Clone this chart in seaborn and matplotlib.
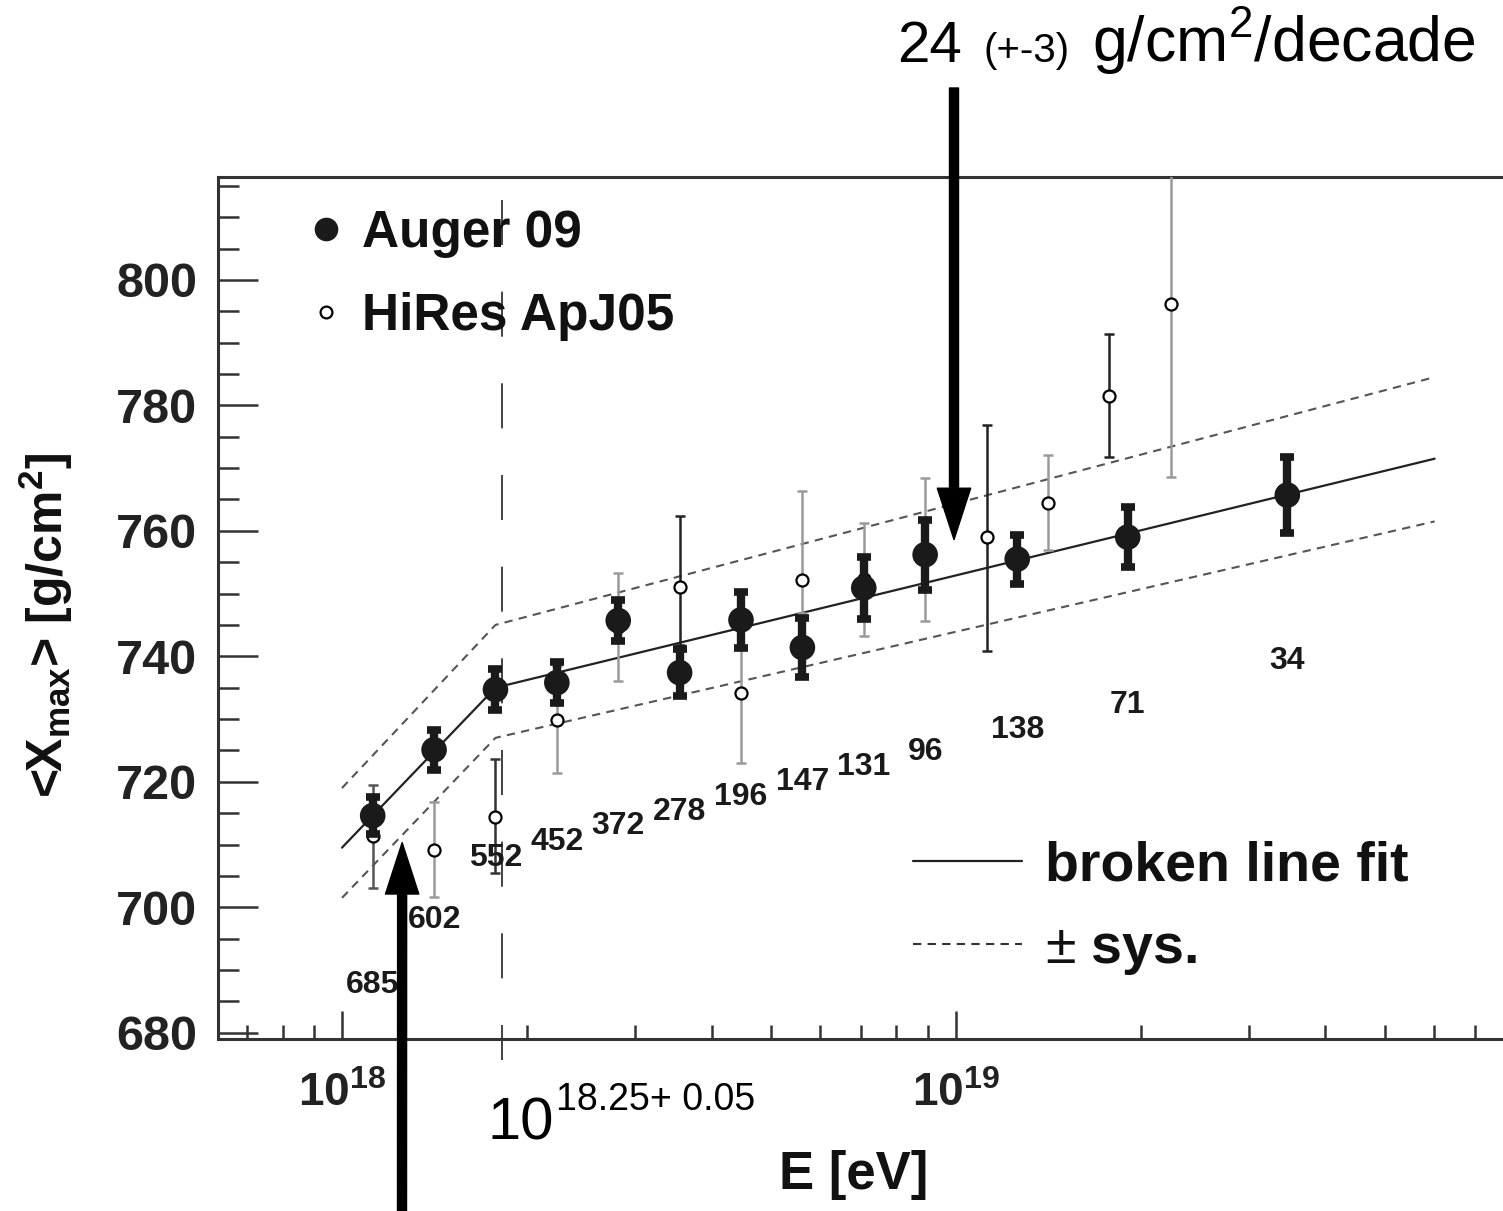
import matplotlib
matplotlib.use("Agg")
import matplotlib.pyplot as plt
import seaborn as sns
import numpy as np
from matplotlib.lines import Line2D
from matplotlib.ticker import MultipleLocator, LogLocator, NullFormatter, FixedLocator, FixedFormatter

# Auger 09 <Xmax> vs lg(E/eV)
auger_lgE = [18.05, 18.15, 18.25, 18.35, 18.45, 18.55, 18.65, 18.75, 18.85, 18.95, 19.10, 19.28, 19.54]
auger_xmax = [714.6, 725.1, 734.7, 735.8, 745.7, 737.4, 745.8, 741.4, 750.9, 756.2, 755.5, 759.0, 765.7]
auger_err = [3.0, 3.2, 3.3, 3.3, 3.2, 3.8, 4.4, 4.7, 5.0, 5.6, 3.9, 4.8, 6.1]
auger_nev = [685, 602, 552, 452, 372, 278, 196, 147, 131, 96, 138, 71, 34]
nev_label_y = [687.6, 698.0, 707.9, 710.4, 713.0, 715.2, 717.6, 720.0, 722.4, 724.8, 728.3, 732.3, 739.2]

# HiRes ApJ05
hires_lgE = [18.05, 18.15, 18.25, 18.35, 18.45, 18.55, 18.65, 18.75, 18.85, 18.95, 19.05, 19.15, 19.25, 19.35]
hires_xmax = [711.4, 709.2, 714.4, 729.9, 744.7, 751.1, 734.2, 752.2, 752.3, 757.0, 759.0, 764.5, 781.5, 796.2]
hires_lo = [703.1, 701.7, 705.5, 721.4, 736.1, 741.8, 723.0, 746.9, 743.3, 745.7, 740.9, 757.0, 771.8, 768.6]
hires_hi = [719.5, 716.7, 723.7, 738.4, 753.3, 762.4, 745.4, 766.4, 761.3, 768.4, 776.9, 772.1, 791.4, 823.8]
hires_bar_color = ["#555555", "#9a9a9a", "#333333", "#9a9a9a", "#9a9a9a", "#222222", "#9a9a9a",
                   "#9a9a9a", "#9a9a9a", "#9a9a9a", "#222222", "#9a9a9a", "#222222", "#9a9a9a"]

# broken line fit and systematic band
fit_lgE = [18.0, 18.25, 19.78]
fit_xmax = [709.5, 735.0, 771.5]
sys_hi = [719.0, 745.0, 784.5]
sys_lo = [701.5, 727.0, 761.5]
break_lgE = 18.26

sns.set_theme(style="white")
plt.rcParams["font.family"] = ["Liberation Sans", "DejaVu Sans"]
plt.rcParams["mathtext.fontset"] = "custom"
plt.rcParams["mathtext.rm"] = "Liberation Sans"
plt.rcParams["mathtext.it"] = "Liberation Sans:italic"
plt.rcParams["mathtext.bf"] = "Liberation Sans:bold"
plt.rcParams["text.color"] = "#111111"
plt.rcParams["axes.labelcolor"] = "#111111"
plt.rcParams["xtick.color"] = "#222222"
plt.rcParams["ytick.color"] = "#222222"

W, H = 1503, 1211
fig = plt.figure(figsize=(W / 100, H / 100), dpi=100)
ax = fig.add_axes([218 / W, 172 / H, 1321 / W, 862 / H])

E = lambda lg: 10 ** np.asarray(lg, dtype=float)

# fit lines
sns.lineplot(x=E(fit_lgE), y=fit_xmax, ax=ax, sort=False, estimator=None,
             color="#222222", lw=1.6, zorder=2)
for band in (sys_hi, sys_lo):
    sns.lineplot(x=E(fit_lgE), y=band, ax=ax, sort=False, estimator=None,
                 color="#555555", lw=1.5, linestyle=(0, (4, 3)), zorder=2)

# vertical break line
ax.plot(E([break_lgE, break_lgE]), [812.7, 675.6], color="#222222", lw=1.2,
        dashes=(27, 28), clip_on=False, zorder=1)

# HiRes error bars + open circles
hE = E(hires_lgE)
hx = np.array(hires_xmax)
for i in range(len(hE)):
    ax.errorbar(hE[i], hx[i], yerr=[[hx[i] - hires_lo[i]], [hires_hi[i] - hx[i]]],
                fmt="none", ecolor=hires_bar_color[i], elinewidth=1.8,
                capsize=3.3, capthick=1.8, zorder=3)
sns.scatterplot(x=hE, y=hx, ax=ax, marker="o", s=75, color="white",
                edgecolor="black", linewidth=1.6, zorder=4, legend=False)

# Auger error bars + filled circles
aE = E(auger_lgE)
ax.errorbar(aE, auger_xmax, yerr=auger_err, fmt="none", ecolor="#1a1a1a",
            elinewidth=6, capsize=5, capthick=5.5, zorder=5)
sns.scatterplot(x=aE, y=auger_xmax, ax=ax, marker="o", s=340, color="#1a1a1a",
                edgecolor="none", zorder=6, legend=False)

# event numbers
for e, n, yl in zip(aE, auger_nev, nev_label_y):
    ax.text(e, yl, str(n), ha="center", va="center", fontsize=23,
            fontweight="bold", color="#1a1a1a")

# axes
ax.set_xscale("log")
ax.set_xlim(10 ** 17.798, 10 ** 19.95)
ax.set_ylim(679.0, 816.4)
ax.xaxis.set_major_locator(FixedLocator([1e18, 1e19]))
ax.xaxis.set_major_formatter(FixedFormatter([r"$\mathbf{10^{18}}$", r"$\mathbf{10^{19}}$"]))
ax.xaxis.set_minor_locator(LogLocator(base=10, subs=np.arange(2, 10)))
ax.xaxis.set_minor_formatter(NullFormatter())
ax.yaxis.set_major_locator(MultipleLocator(20))
ax.yaxis.set_minor_locator(MultipleLocator(5))

for s in ax.spines.values():
    s.set_linewidth(2.2)
    s.set_color("#333333")
ax.tick_params(axis="both", which="both", direction="in", top=False, right=False,
               bottom=True, left=True, color="#333333", width=1.8)
ax.tick_params(axis="y", which="major", length=29, labelsize=35, pad=15)
ax.tick_params(axis="y", which="minor", length=15)
ax.tick_params(axis="x", which="major", length=20, labelsize=33, pad=24)
ax.tick_params(axis="x", which="minor", length=10)
for lab in ax.get_yticklabels():
    lab.set_fontweight("bold")

ax.set_ylabel(r"<X$_{\mathbf{max}}$> [g/cm$^{\mathbf{2}}$]", fontsize=36, fontweight="bold")
ax.yaxis.set_label_coords(-0.108, 0.48)
ax.set_xlabel("E [eV]", fontsize=38, fontweight="bold")
ax.xaxis.set_label_coords(0.481, -0.129)

# legends
h1 = [Line2D([], [], marker="o", ls="none", color="#1a1a1a", markersize=16),
      Line2D([], [], marker="o", ls="none", color="black", markerfacecolor="white",
             markersize=8.5, markeredgewidth=1.6)]
leg1 = ax.legend(h1, ["Auger 09", "HiRes ApJ05"], loc="upper left",
                 bbox_to_anchor=(0.066, 0.963), frameon=False, handlelength=0.8,
                 handletextpad=0.3, labelspacing=0.66, borderpad=0, borderaxespad=0,
                 prop={"size": 37, "weight": "bold"})
ax.add_artist(leg1)
h2 = [Line2D([], [], color="#222222", lw=1.6),
      Line2D([], [], color="#333333", lw=1.5, linestyle=(0, (4, 3)))]
ax.legend(h2, ["broken line fit", r"$\pm$ sys."], loc="upper left",
          bbox_to_anchor=(0.526, 0.230), frameon=False, handlelength=1.96,
          handletextpad=0.41, labelspacing=0.55, borderpad=0, borderaxespad=0,
          prop={"size": 40, "weight": "bold"})

# annotations
fig.text(897 / W, 1 - 62 / H, "24", fontsize=42, va="baseline", color="black")
fig.text(984 / W, 1 - 62 / H, "(+-3)", fontsize=29, va="baseline", color="black")
fig.text(1092 / W, 1 - 62 / H, r"g/cm$^{2}$/decade", fontsize=45, va="baseline", color="black")
fig.text(487 / W, 1 - 1140 / H, "10", fontsize=43, va="baseline", color="black")
fig.text(556 / W, 1 - 1110 / H, "18.25+ 0.05", fontsize=27, va="baseline", color="black")

arrow = dict(facecolor="black", edgecolor="black", width=6.5, headwidth=24,
             headlength=37, shrink=0)
ax.annotate("", xy=(10 ** 18.997, 758.6), xycoords="data",
            xytext=(954 / W, 1 - 88 / H), textcoords="figure fraction",
            arrowprops=arrow, annotation_clip=False, zorder=10)
ax.annotate("", xy=(10 ** 18.098, 710.3), xycoords="data",
            xytext=(402 / W, -0.01), textcoords="figure fraction",
            arrowprops=arrow, annotation_clip=False, zorder=10)

fig.savefig("out.png", dpi=100, facecolor="white")
